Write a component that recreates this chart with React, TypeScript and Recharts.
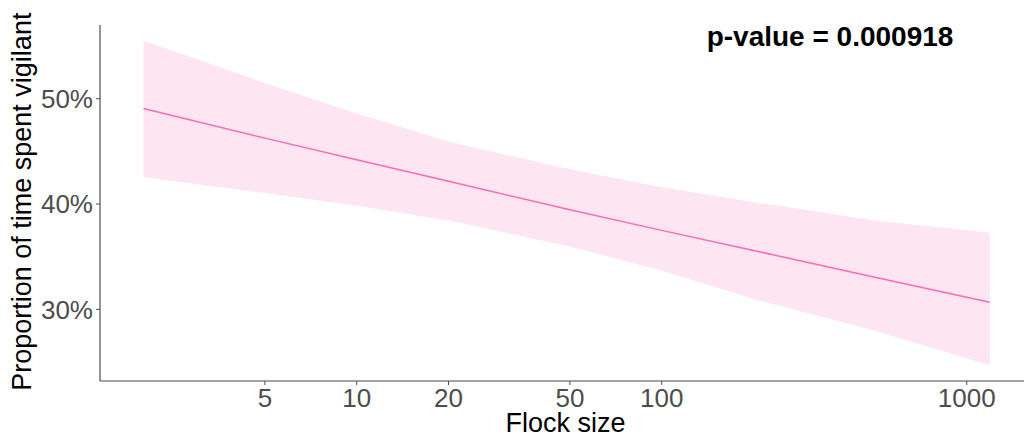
import React from 'react';
import { ComposedChart, Area, Line, XAxis, YAxis } from 'recharts';

// flock size (log scale) and fitted proportion vigilant (%) with 95% band
const flockSize = [2, 5, 10, 20, 50, 100, 200, 500, 1190];
const fitted = [49.08, 46.26, 44.2, 42.16, 39.45, 37.5, 35.59, 33.05, 30.67];
const upperCI = [55.5, 51.5, 48.6, 45.93, 43.3, 41.6, 40.19, 38.45, 37.27];
const lowerCI = [42.57, 41.04, 39.85, 38.45, 35.97, 33.69, 30.99, 27.97, 24.7];

const xTicks = [5, 10, 20, 50, 100, 1000];
const yTicks = [30, 40, 50];

const font = '"Liberation Sans", Arial, sans-serif';

export default function App() {
    const data = React.useMemo(
        () =>
            flockSize.map((x, i) => ({
                x,
                fit: fitted[i],
                band: [lowerCI[i], upperCI[i]],
            })),
        []
    );

    return (
        <div style={{ position: 'absolute', left: 0, top: 0, width: 1024, height: 441, overflow: 'hidden', background: '#fff' }}>
            <ComposedChart width={1040} height={441} data={data} margin={{ top: 25, right: 8, bottom: 0, left: 0 }}>
                <XAxis
                    dataKey="x"
                    type="number"
                    scale="log"
                    domain={[1.44, 1637]}
                    allowDataOverflow
                    ticks={xTicks}
                    height={60}
                    tickSize={4}
                    tickMargin={4}
                    axisLine={{ stroke: '#4d4d4d', strokeWidth: 1.2 }}
                    tickLine={{ stroke: '#4d4d4d' }}
                    tick={{ fill: '#4d4d4d', fontSize: 26, fontFamily: font }}
                />
                <YAxis
                    type="number"
                    domain={[23.2, 57.0]}
                    allowDataOverflow
                    ticks={yTicks}
                    width={100}
                    tickSize={4}
                    tickMargin={3}
                    tickFormatter={(v) => `${v}%`}
                    axisLine={{ stroke: '#4d4d4d', strokeWidth: 1.2 }}
                    tickLine={{ stroke: '#4d4d4d' }}
                    tick={{ fill: '#4d4d4d', fontSize: 26, fontFamily: font }}
                />
                <Area dataKey="band" type="linear" stroke="none" fill="#fde6f2" fillOpacity={1} isAnimationActive={false} />
                <Line dataKey="fit" type="linear" stroke="#ff69b4" strokeWidth={1.5} dot={false} isAnimationActive={false} />
            </ComposedChart>
            <svg width={1024} height={441} style={{ position: 'absolute', left: 0, top: 0, pointerEvents: 'none' }}>
                <text x={31} y={201.7} transform="rotate(-90, 31, 201.7)" textAnchor="middle" fontSize={27} fontFamily={font} fill="#000">
                    Proportion of time spent vigilant
                </text>
                <text x={565.5} y={432} textAnchor="middle" fontSize={27} fontFamily={font} fill="#000">
                    Flock size
                </text>
                <text x={830} y={46} textAnchor="middle" fontSize={28} fontWeight="bold" fontFamily={font} fill="#000">
                    p-value = 0.000918
                </text>
            </svg>
        </div>
    );
}
